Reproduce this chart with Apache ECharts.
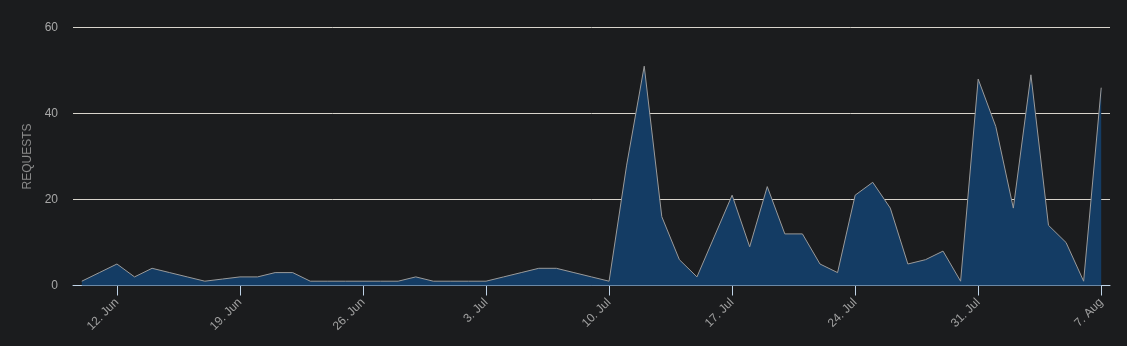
<!DOCTYPE html>
<html>
<head>
<meta charset="utf-8">
<script src="https://cdn.jsdelivr.net/npm/echarts@6/dist/echarts.min.js"></script>
<style>
html,body{margin:0;padding:0;background:#1b1c1e;}
#c{width:1127px;height:346px;}
</style>
</head>
<body>
<div id="c"></div>
<script>
const dates = [
 "10. Jun","11. Jun","12. Jun","13. Jun","14. Jun","15. Jun","16. Jun","17. Jun","18. Jun","19. Jun",
 "20. Jun","21. Jun","22. Jun","23. Jun","24. Jun","25. Jun","26. Jun","27. Jun","28. Jun","29. Jun","30. Jun",
 "1. Jul","2. Jul","3. Jul","4. Jul","5. Jul","6. Jul","7. Jul","8. Jul","9. Jul","10. Jul",
 "11. Jul","12. Jul","13. Jul","14. Jul","15. Jul","16. Jul","17. Jul","18. Jul","19. Jul","20. Jul",
 "21. Jul","22. Jul","23. Jul","24. Jul","25. Jul","26. Jul","27. Jul","28. Jul","29. Jul","30. Jul","31. Jul",
 "1. Aug","2. Aug","3. Aug","4. Aug","5. Aug","6. Aug","7. Aug"
];
const requests = [
 1,3,5,2,4,3,2,1,1.5,2,
 2,3,3,1,1,1,1,1,1,2,1,
 1,1,1,2,3,4,4,3,2,1,
 28,51,16,6,2,11.5,21,9,23,12,
 12,5,3,21,24,18,5,6,8,1,48,
 37,18,49,14,10,1,46
];
const tickLabels = ["12. Jun","19. Jun","26. Jun","3. Jul","10. Jul","17. Jul","24. Jul","31. Jul","7. Aug"];
const yTicks = [0,20,40,60];

const isTick = (i, v) => tickLabels.indexOf(dates[i]) >= 0;

const chart = echarts.init(document.getElementById('c'));
chart.setOption({
  backgroundColor: '#1b1c1e',
  animation: false,
  grid: {left: 73, right: 17, top: 27.5, bottom: 60.5},
  xAxis: {
    type: 'category',
    data: dates,
    boundaryGap: true,
    axisLine: {show: true, lineStyle: {color: '#c0d4e8', width: 1}},
    axisTick: {
      show: true,
      alignWithLabel: true,
      length: 10,
      interval: isTick,
      lineStyle: {color: '#c0d4e8', width: 1}
    },
    axisLabel: {
      interval: isTick,
      rotate: 45,
      color: '#a0a0a0',
      fontSize: 12,
      fontFamily: 'Liberation Sans, Arial, sans-serif',
      margin: 15
    },
    splitLine: {show: false}
  },
  yAxis: {
    type: 'value',
    min: yTicks[0],
    max: yTicks[yTicks.length - 1],
    interval: 20,
    name: 'REQUESTS',
    nameLocation: 'middle',
    nameGap: 35,
    nameTextStyle: {color: '#8a8a8a', fontSize: 12, fontFamily: 'Liberation Sans, Arial, sans-serif'},
    axisLine: {show: false},
    axisTick: {show: false},
    axisLabel: {color: '#a8a8a8', fontSize: 12, margin: 15, fontFamily: 'Liberation Sans, Arial, sans-serif'},
    splitLine: {lineStyle: {color: '#d8d4cc', width: 1}}
  },
  series: [{
    type: 'line',
    data: requests,
    symbol: 'none',
    lineStyle: {color: '#9a9a9a', width: 1},
    areaStyle: {color: '#143c64', opacity: 1},
    z: 3
  }]
});
</script>
</body>
</html>
